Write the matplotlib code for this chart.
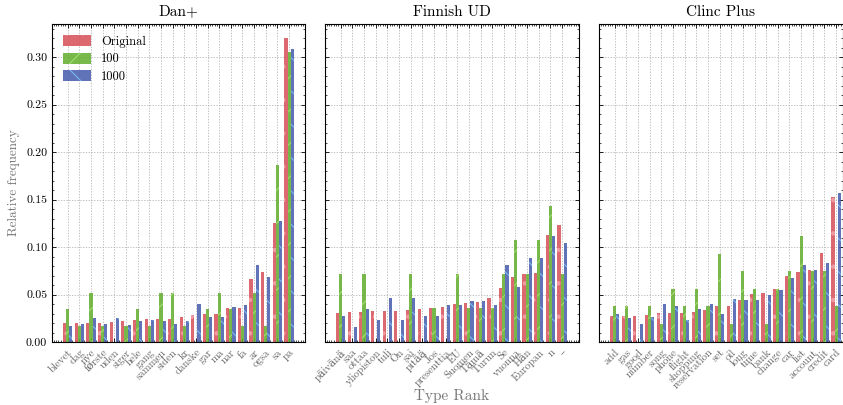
import matplotlib
matplotlib.use("Agg")
import matplotlib.pyplot as plt
import matplotlib.transforms as mtransforms
from matplotlib.ticker import AutoMinorLocator, MultipleLocator
import numpy as np

plt.rcParams['font.family'] = ['cmr10', 'DejaVu Serif']
plt.rcParams['mathtext.fontset'] = 'cm'
plt.rcParams['axes.formatter.use_mathtext'] = True
plt.rcParams['hatch.linewidth'] = 0.8

series_names = ["Original", "100", "1000"]

dan_labels = ["blevet", "dag", "nye", "første", "uden", "siger", "hele", "gang", "sammen", "siden",
              "kr", "danske", "gar", "ma", "nar", "fa", "ar", "ogsa", "sa", "pa"]
dan_orig = [0.0205, 0.0205, 0.0205, 0.0205, 0.021, 0.0223, 0.0233, 0.0244, 0.0244, 0.0244,
            0.0265, 0.0286, 0.0296, 0.0296, 0.036, 0.036, 0.0665, 0.0739, 0.1254, 0.320]
dan_100 = [0.0345, 0.0172, 0.0517, 0.0172, 0.0, 0.0172, 0.0345, 0.0172, 0.0517, 0.0517,
           0.0172, 0.0, 0.0345, 0.0517, 0.0345, 0.0172, 0.0517, 0.0172, 0.1862, 0.305]
dan_1000 = [0.0165, 0.019, 0.0254, 0.019, 0.0254, 0.018, 0.022, 0.0233, 0.022, 0.019,
            0.022, 0.0402, 0.0265, 0.0265, 0.037, 0.039, 0.0813, 0.0686, 0.1275, 0.309]

fin_labels = ["päivänä", "saa", "ottaa", "yliopiston", "tuli", "On", "sai", "pitää", "Jos", "presenttia",
              "EU", "Suomen", "Tämä", "Turun", "Se", "vuonna", "Hän", "Europan", "n", "–"]
fin_orig = [0.0303, 0.0313, 0.0313, 0.0324, 0.0324, 0.0324, 0.0334, 0.0345, 0.0356, 0.0366,
            0.0397, 0.0408, 0.0418, 0.046, 0.0569, 0.068, 0.0712, 0.0723, 0.1122, 0.1228]
fin_100 = [0.0714, 0.0, 0.0714, 0.0, 0.0, 0.0, 0.0714, 0.0, 0.0357, 0.0,
           0.0714, 0.0357, 0.0357, 0.0357, 0.0714, 0.1071, 0.0714, 0.1071, 0.1429, 0.0714]
fin_1000 = [0.0271, 0.0156, 0.0345, 0.0229, 0.046, 0.0229, 0.046, 0.0271, 0.0271, 0.0387,
            0.0387, 0.0429, 0.0429, 0.0387, 0.0807, 0.0576, 0.0881, 0.0881, 0.1112, 0.1039]

clinc_labels = ["add", "gas", "good", "number", "song", "phone", "flight", "shopping", "reservation", "set",
                "oil", "long", "time", "bank", "change", "car", "list", "account", "credit", "card"]
clinc_orig = [0.0272, 0.0272, 0.0272, 0.0282, 0.0303, 0.0303, 0.0303, 0.0314, 0.0335, 0.0377,
              0.0377, 0.044, 0.0503, 0.0514, 0.0556, 0.0693, 0.0735, 0.0756, 0.0935, 0.1524]
clinc_100 = [0.0377, 0.0377, 0.0, 0.0377, 0.0187, 0.0556, 0.0377, 0.0556, 0.0377, 0.0925,
             0.0187, 0.0746, 0.0556, 0.0187, 0.0556, 0.0746, 0.1114, 0.0746, 0.0746, 0.0377]
clinc_1000 = [0.030, 0.025, 0.0187, 0.026, 0.0398, 0.0377, 0.023, 0.0345, 0.0398, 0.030,
              0.0451, 0.044, 0.044, 0.0493, 0.0546, 0.0675, 0.0809, 0.0756, 0.083, 0.1565]

panels = [
    ("Dan+", dan_labels, [dan_orig, dan_100, dan_1000]),
    ("Finnish UD", fin_labels, [fin_orig, fin_100, fin_1000]),
    ("Clinc Plus", clinc_labels, [clinc_orig, clinc_100, clinc_1000]),
]

face_colors = ["#d9545c", "#66b032", "#4a5fae"]
hatch_colors = ["#f0a0a6", "#a8e070", "#7cc4f4"]
hatches = [".", "/", "\\"]
alphas = [0.88, 0.88, 0.88]

W, H = 843, 405
fig = plt.figure(figsize=(W / 100, H / 100), dpi=100)
lefts = [52, 325, 599]
widths = [253, 254, 244]
bottom_px, top_px = 342, 24
axes = []
for i, (l, w) in enumerate(zip(lefts, widths)):
    ax = fig.add_axes([l / W, (H - bottom_px) / H, w / W, (bottom_px - top_px) / H],
                      sharey=axes[0] if axes else None)
    axes.append(ax)

offset = mtransforms.ScaledTranslation(4 / 100, -1 / 100, fig.dpi_scale_trans)

bw = 0.27
for pi, (ax, (title, labels, data)) in enumerate(zip(axes, panels)):
    x = np.arange(len(labels))
    for si, vals in enumerate(data):
        ax.bar(x + (si - 1) * bw, vals, width=bw, color=face_colors[si],
               edgecolor=hatch_colors[si], linewidth=0, hatch=hatches[si],
               alpha=alphas[si], label=series_names[si], zorder=2)
    ax.set_title(title, fontsize=11)
    ax.set_xticks(x)
    ax.set_xticklabels(labels, rotation=45, ha='right', rotation_mode='anchor',
                       fontsize=7.8, color='#666666')
    for lab in ax.get_xticklabels():
        lab.set_transform(lab.get_transform() + offset)
    ax.tick_params(axis='x', pad=4)
    ax.set_xlim(-1.35, -1.35 + (widths[pi] / 11.65))
    ax.xaxis.set_minor_locator(AutoMinorLocator(5))
    ax.yaxis.set_major_locator(MultipleLocator(0.05))
    ax.yaxis.set_minor_locator(MultipleLocator(0.01))
    ax.tick_params(which='both', direction='in', top=True, right=True)
    ax.tick_params(which='major', length=3, width=0.6)
    ax.tick_params(which='minor', length=1.5, width=0.5)
    ax.tick_params(axis='y', labelsize=8.5)
    ax.grid(True, which='major', linestyle=(0, (2, 2)), linewidth=0.5, color='#aaaaaa', zorder=0)
    ax.set_axisbelow(True)
    for sp in ax.spines.values():
        sp.set_linewidth(0.8)
    if pi > 0:
        ax.tick_params(axis='y', labelleft=False)

axes[0].set_ylim(0, 0.335)
axes[0].yaxis.set_major_formatter(matplotlib.ticker.FormatStrFormatter('%.2f'))
axes[0].set_ylabel("Relative frequency", fontsize=9.5, color='#777777')
fig.text((325 + 127) / W, (H - 396) / H, "Type Rank", fontsize=11, color='#777777',
         ha='center', va='center')
axes[0].legend(loc='upper left', frameon=False, fontsize=9, handlelength=2.2,
               handleheight=1.0, borderaxespad=0.5, labelspacing=0.35)

fig.savefig("out.png", dpi=100)
